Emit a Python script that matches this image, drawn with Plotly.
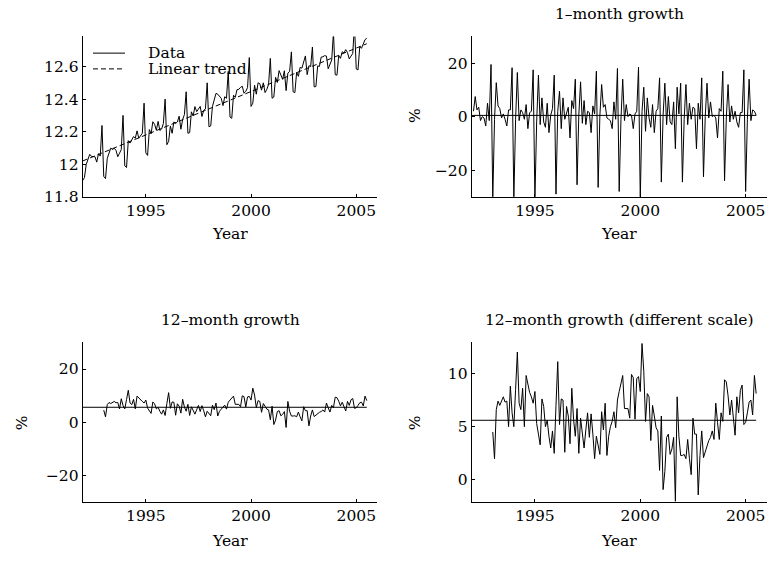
import numpy as np
import plotly.graph_objects as go
from plotly.subplots import make_subplots

# ---------------- data ----------------
START_YEAR = 1992  # first month of the level series: Jan 1992, monthly data

# log level, Jan 1992 .. Jul 2005
level = [
    11.900, 11.918, 11.998, 12.025, 12.061, 12.048, 12.049, 12.046, 12.013, 12.065, 12.050, 12.238,
    11.925, 11.912, 12.036, 12.072, 12.099, 12.091, 12.098, 12.085, 12.046, 12.068, 12.090, 12.300,
    11.990, 11.980, 12.145, 12.130, 12.155, 12.170, 12.160, 12.205, 12.160, 12.175, 12.190, 12.375,
    12.070, 12.054, 12.213, 12.187, 12.261, 12.245, 12.209, 12.263, 12.207, 12.216, 12.250, 12.400,
    12.120, 12.140, 12.235, 12.190, 12.260, 12.250, 12.260, 12.295, 12.215, 12.275, 12.305, 12.445,
    12.190, 12.194, 12.322, 12.296, 12.354, 12.323, 12.341, 12.355, 12.293, 12.331, 12.340, 12.500,
    12.230, 12.235, 12.355, 12.390, 12.435, 12.430, 12.420, 12.405, 12.360, 12.415, 12.405, 12.570,
    12.290, 12.282, 12.424, 12.411, 12.458, 12.460, 12.472, 12.479, 12.436, 12.448, 12.470, 12.655,
    12.355, 12.375, 12.485, 12.430, 12.500, 12.495, 12.455, 12.500, 12.440, 12.460, 12.490, 12.650,
    12.405, 12.413, 12.534, 12.502, 12.575, 12.553, 12.521, 12.574, 12.452, 12.560, 12.570, 12.690,
    12.445, 12.440, 12.565, 12.540, 12.595, 12.590, 12.630, 12.665, 12.550, 12.605, 12.600, 12.720,
    12.475, 12.477, 12.604, 12.601, 12.658, 12.660, 12.667, 12.664, 12.586, 12.618, 12.640, 12.810,
    12.550, 12.547, 12.668, 12.650, 12.691, 12.683, 12.704, 12.686, 12.647, 12.664, 12.680, 12.855,
    12.585, 12.579, 12.723, 12.712, 12.741, 12.765, 12.774,
]

# 1-month growth (%), Feb 1992 .. Jul 2005
growth_1m = [
    2, 7.5, 2.5, 3.5, -1.5, 0, -0.5, -3.5, 5, -1.5, 19.5,
    -31, -1, 12.7, 4, 3, -0.5, 1, -1, -3.5, 2.5, 2.5, 18.3,
    -31, -1, 16.5, -1.5, 2.5, 1.5, -1, 4.5, -4.5, 1.5, 2, 17.5,
    -31, -2, 15.5, -3, 7, -2, -4, 5, -6, 0.5, 3, 15.5,
    -29, 2, 9.5, -4.5, 7, -1, 1, 3.5, -8, 6, 3, 14,
    -25.5, 0.5, 13, -2.5, 6, -3, 2, 1.5, -6, 4, 1, 17,
    -26.5, 0.5, 12, 3.5, 4.5, -0.5, -1, -1.5, -4.5, 5.5, -1, 18,
    -28, -1, 14, -1.5, 4.5, 0, 1, 0.5, -4.5, 1, 2, 18.5,
    -31, 2, 11, -5.5, 7, -0.5, -4, 4.5, -6, 2, 3, 14.5,
    -24.5, 0.5, 12.5, -3, 7.5, -2, -3, 5.5, -12, 11, 1, 12.5,
    -24.5, -1, 12, -3, 5, -1, 3.5, 3, -12, 5, -1, 14.5,
    -22.5, 0, 12.5, -0.5, 5.5, 0, 0.5, -0.5, -8, 3, 2, 17,
    -24, -0.5, 12, -2, 4, -1, 2, -2, -4, 1.5, 1.5, 17.5,
    -28, -1, 14, -1.5, 2.5, 2, 0.5,
]

# 12-month growth (%), Jan 1993 .. Jul 2005
growth_12m = [
    4.5, 2.0, 6.6, 7.4, 7.0, 7.5, 7.8, 7.3, 7.4, 5.0, 8.8, 6.3,
    5.0, 8.5, 12.0, 7.2, 6.6, 8.6, 5.0, 9.8, 9.0, 8.2, 7.8, 7.2,
    8.3, 5.3, 4.3, 3.3, 7.6, 6.9, 5.0, 5.6, 4.1, 3.0, 4.6, 2.5,
    7.0, 11.1, 5.2, 7.6, 7.5, 2.6, 6.9, 6.0, 3.4, 8.6, 5.7, 4.1,
    6.7, 2.5, 5.8, 4.1, 3.0, 4.7, 6.3, 4.0, 6.2, 4.3, 2.0, 4.1,
    3.2, 2.4, 6.4, 4.7, 7.2, 2.3, 4.1, 5.0, 5.5, 6.4, 4.9, 7.5,
    8.3, 9.0, 9.8, 6.7, 6.7, 6.7, 5.8, 9.9, 9.6, 5.7, 9.5, 9.7,
    8.3, 12.8, 10.2, 5.5, 8.1, 7.8, 3.7, 7.0, 6.0, 4.9, 4.6, 0.9,
    6.0, -0.9, 0.8, 4.0, 4.3, 2.4, 2.9, 4.0, -2.0, 7.8, 4.1, 2.3,
    2.3, 2.4, 2.0, 3.8, 2.0, 0.5, 5.8, 4.3, 4.3, -1.4, 2.3, 4.6,
    2.1, 2.7, 3.2, 3.7, 4.0, 4.6, 3.8, 7.2, 5.4, 3.8, 6.3, 5.5,
    9.4, 9.2, 7.9, 6.1, 7.5, 6.0, 4.2, 7.8, 6.3, 8.4, 8.9, 5.2,
    5.4, 6.3, 7.3, 7.5, 6.1, 9.8, 8.1,
]

trend_ends = [12.02, 12.74]   # linear trend at first / last month
mean_1m = 0.45                # average 1-month growth (%)
mean_12m = 5.6                # average 12-month growth (%)

x_ticks = [1995, 2000, 2005]
level_ticks = [11.8, 12.0, 12.2, 12.4, 12.6]
level_ticktext = ["11.8", "12", "12.2", "12.4", "12.6"]

# ---------------- time axis ----------------
t_level = START_YEAR + np.arange(len(level)) / 12.0
t_1m = t_level[len(level) - len(growth_1m):]
t_12m = t_level[len(level) - len(growth_12m):]
t_span = [t_level[0], t_level[-1]]

# ---------------- figure ----------------
W, H = 784, 563
FONT = "DejaVu Serif"
FS = 15.5

fig = make_subplots(rows=2, cols=2)

line = dict(color="black", width=1)

fig.add_trace(go.Scatter(x=t_level, y=level, mode="lines", line=line,
                         showlegend=False, hoverinfo="skip"), row=1, col=1)
fig.add_trace(go.Scatter(x=t_span, y=trend_ends, mode="lines",
                         line=dict(color="black", width=1, dash="5px,3px"),
                         showlegend=False, hoverinfo="skip"), row=1, col=1)

fig.add_trace(go.Scatter(x=t_1m, y=growth_1m, mode="lines", line=line,
                         showlegend=False, hoverinfo="skip"), row=1, col=2)
fig.add_trace(go.Scatter(x=t_span, y=[mean_1m, mean_1m], mode="lines", line=line,
                         showlegend=False, hoverinfo="skip"), row=1, col=2)

for c in (1, 2):
    fig.add_trace(go.Scatter(x=t_12m, y=growth_12m, mode="lines", line=line,
                             showlegend=False, hoverinfo="skip"), row=2, col=c)
    fig.add_trace(go.Scatter(x=t_span, y=[mean_12m, mean_12m], mode="lines", line=line,
                             showlegend=False, hoverinfo="skip"), row=2, col=c)

# domains in pixels (left, right, top, bottom)
px_x = [(82.7, 377.3), (471.7, 766.7)]
px_y = [(37, 200), (348, 510)]

def xd(i):
    return [px_x[i][0] / W, px_x[i][1] / W]

def yd(j):
    return [(H - px_y[j][1]) / H, (H - px_y[j][0]) / H]

axis_common = dict(showline=True, linecolor="black", linewidth=1, mirror=False,
                   ticks="inside", ticklen=3, tickwidth=1, tickcolor="black",
                   showgrid=False, zeroline=False,
                   tickfont=dict(family=FONT, size=FS, color="black"))

x_range = [1992, 2006]
yranges = {(1, 1): [11.8, 12.785], (1, 2): [-30, 30], (2, 1): [-30, 30], (2, 2): [-2.05, 12.9]}

for r in (1, 2):
    for c in (1, 2):
        fig.update_xaxes(axis_common, domain=xd(c - 1), range=x_range,
                         tickvals=x_ticks, row=r, col=c)
        fig.update_yaxes(axis_common, domain=yd(r - 1), range=yranges[(r, c)], row=r, col=c)

fig.update_yaxes(tickvals=level_ticks, ticktext=level_ticktext, row=1, col=1)
fig.update_yaxes(tickvals=[-20, 0, 20], row=1, col=2)
fig.update_yaxes(tickvals=[-20, 0, 20], row=2, col=1)
fig.update_yaxes(tickvals=[0, 5, 10], row=2, col=2)

def cx(i):
    return (px_x[i][0] + px_x[i][1]) / 2 / W

def py(y):
    return (H - y) / H

ann = []
tf = dict(family=FONT, size=FS, color="black")
def text(s, x, y, **kw):
    a = dict(text=s, x=x, y=py(y), xref="paper", yref="paper", showarrow=False,
             font=tf, xanchor="center", yanchor="middle")
    a.update(kw)
    ann.append(a)

text("1\u2013month growth", cx(1), 14)
text("12\u2013month growth", cx(0), 325)
text("12\u2013month growth (different scale)", cx(1), 325)
text("Year", cx(0), 238)
text("Year", cx(1), 238)
text("Year", cx(0), 550)
text("Year", cx(1), 550)
text("%", 415 / W, 118, textangle=-90)
text("%", 22 / W, 430, textangle=-90)
text("%", 415 / W, 430, textangle=-90)
# legend texts
text("Data", 146 / W, 54, xanchor="left")
text("Linear trend", 146 / W, 70, xanchor="left")

shapes = [
    dict(type="line", xref="paper", yref="paper", x0=93 / W, x1=125 / W,
         y0=py(54), y1=py(54), line=dict(color="black", width=1)),
    dict(type="line", xref="paper", yref="paper", x0=93 / W, x1=125 / W,
         y0=py(70), y1=py(70), line=dict(color="black", width=1, dash="5px,3px")),
]

fig.update_layout(width=W, height=H, margin=dict(l=0, r=0, t=0, b=0),
                  paper_bgcolor="white", plot_bgcolor="white",
                  font=dict(family=FONT, size=FS, color="black"),
                  annotations=ann, shapes=shapes, showlegend=False)

fig.write_html("out.html", config={"displayModeBar": False, "staticPlot": True},
               post_script="document.body.style.margin='0px';")
